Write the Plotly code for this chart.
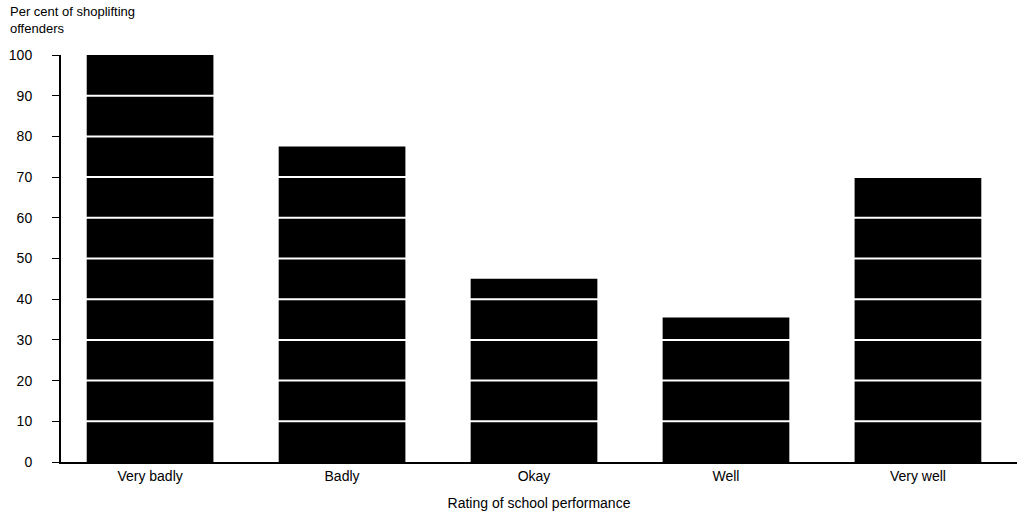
import plotly.graph_objects as go

categories = ["Very badly", "Badly", "Okay", "Well", "Very well"]
percent_offenders = [100, 77.5, 45, 35.5, 70]
y_ticks = [0, 10, 20, 30, 40, 50, 60, 70, 80, 90, 100]

FONT = "Liberation Sans Narrow, Arial Narrow, Liberation Sans, Arial, sans-serif"

fig = go.Figure(go.Bar(
    x=categories, y=percent_offenders,
    marker=dict(color="black", line=dict(width=0)),
    width=0.66,
))

# white gridlines drawn over the bars
for v in y_ticks[1:-1]:
    fig.add_shape(type="line", xref="paper", x0=0.003, x1=1, yref="y", y0=v, y1=v,
                  line=dict(color="white", width=2), layer="above")

fig.update_layout(
    width=1017, height=517,
    margin=dict(l=61, r=0, t=55, b=55),
    plot_bgcolor="white", paper_bgcolor="white",
    font=dict(family=FONT, size=14, color="black"),
    showlegend=False,
    bargap=0.34,
    xaxis=dict(
        type="category", range=[-0.464, 4.516],
        showline=True, linecolor="black", linewidth=2,
        ticks="", showgrid=False,
        tickfont=dict(size=14),
        title=dict(text="Rating of school performance", font=dict(size=14), standoff=15),
    ),
    yaxis=dict(
        range=[0, 100], tickvals=y_ticks,
        showline=True, linecolor="black", linewidth=2,
        ticks="outside", ticklen=7, tickwidth=1, tickcolor="black",
        showgrid=False, zeroline=False,
        tickfont=dict(size=14),
        ticklabelstandoff=17,
    ),
    annotations=[dict(
        text="Per cent of shoplifting<br>offenders",
        xref="paper", yref="paper", x=0, y=1, xanchor="left", yanchor="bottom",
        xshift=-53, yshift=17, showarrow=False, align="left",
        font=dict(size=13, family=FONT),
    )],
)

fig.write_html("out.html", config={"displayModeBar": False},
               post_script="document.body.style.margin='0';")
